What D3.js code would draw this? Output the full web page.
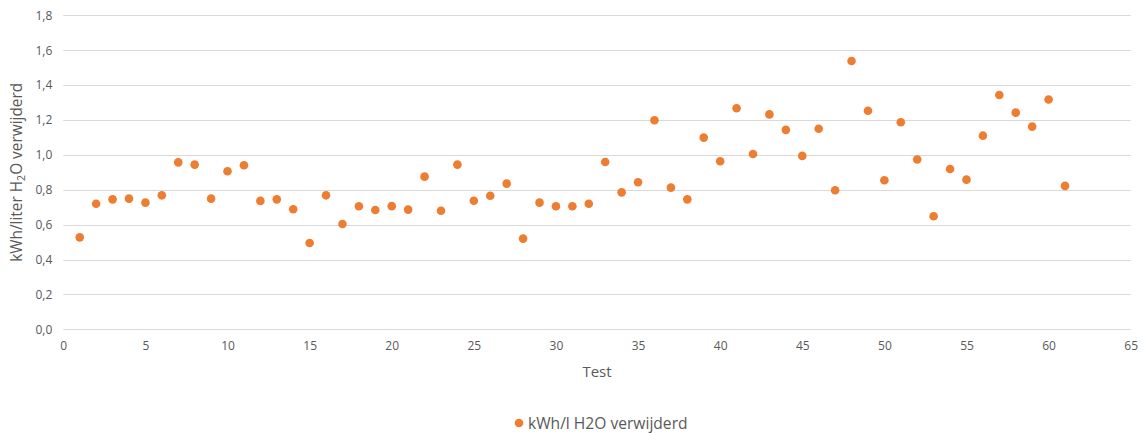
<!DOCTYPE html>
<html>
<head>
<meta charset="utf-8">
<script src="https://cdn.jsdelivr.net/npm/d3@7"></script>
<style>
  html, body { margin: 0; padding: 0; background: #fff; }
  svg text { font-family: "Open Sans", Lato, sans-serif; fill: #595959; }
</style>
</head>
<body>
<svg id="chart" width="1143" height="434"></svg>
<script>
// Test numbers and energy use per litre of water removed
const tests = d3.range(1, 62);
const kwhPerLiter = [
  0.527, 0.720, 0.745, 0.749, 0.726, 0.768, 0.957, 0.944, 0.749, 0.906,
  0.940, 0.736, 0.745, 0.688, 0.495, 0.768, 0.604, 0.705, 0.684, 0.706,
  0.686, 0.875, 0.680, 0.944, 0.737, 0.766, 0.835, 0.520, 0.726, 0.705,
  0.705, 0.720, 0.959, 0.785, 0.843, 1.198, 0.812, 0.745, 1.099, 0.963,
  1.267, 1.005, 1.232, 1.143, 0.994, 1.150, 0.797, 1.538, 1.253, 0.854,
  1.187, 0.973, 0.648, 0.919, 0.858, 1.110, 1.343, 1.242, 1.162, 1.317,
  0.822
];
const xTicks = d3.range(0, 66, 5);
const yTicks = d3.range(0, 1.81, 0.2);
const seriesName = "kWh/l H2O verwijderd";

const svg = d3.select("#chart");
const plotLeft = 63.3, plotRight = 1130.7, plotTop = 15.3, plotBottom = 329.3;

const x = d3.scaleLinear().domain([0, 65]).range([plotLeft, plotRight]);
const y = d3.scaleLinear().domain([0, 1.8]).range([plotBottom, plotTop]);
const fmt = v => d3.format(".1f")(v).replace(".", ",");

// horizontal gridlines
svg.append("g")
  .selectAll("line")
  .data(yTicks)
  .join("line")
  .attr("x1", plotLeft).attr("x2", plotRight)
  .attr("y1", d => Math.round(y(d)) + 0.5).attr("y2", d => Math.round(y(d)) + 0.5)
  .attr("stroke", "#d9d9d9").attr("stroke-width", 1);

// y axis labels
const yAxis = d3.axisLeft(y).tickValues(yTicks).tickFormat(fmt).tickSize(0).tickPadding(11);
svg.append("g")
  .attr("transform", `translate(${plotLeft},0)`)
  .call(yAxis)
  .call(g => g.select(".domain").remove())
  .call(g => g.selectAll("text").style("font-size", "12px").attr("fill", "#595959"));

// x axis labels
const xAxis = d3.axisBottom(x).tickValues(xTicks).tickFormat(d3.format("d")).tickSize(0).tickPadding(12);
svg.append("g")
  .attr("transform", `translate(0,${plotBottom})`)
  .call(xAxis)
  .call(g => g.select(".domain").remove())
  .call(g => g.selectAll("text").style("font-size", "12px").attr("fill", "#595959"));

// axis titles
svg.append("text")
  .attr("x", (plotLeft + plotRight) / 2).attr("y", 377)
  .attr("text-anchor", "middle")
  .style("font-size", "15px")
  .text("Test");

const yTitle = svg.append("text")
  .attr("transform", `translate(22,${(plotTop + plotBottom) / 2}) rotate(-90)`)
  .attr("text-anchor", "middle")
  .style("font-size", "15.4px");
yTitle.append("tspan").text("kWh/liter H");
yTitle.append("tspan").attr("baseline-shift", "-30%").style("font-size", "10.5px").text("2");
yTitle.append("tspan").text("O verwijderd");

// data points
svg.append("g")
  .selectAll("circle")
  .data(tests.map((t, i) => ({ t, v: kwhPerLiter[i] })))
  .join("circle")
  .attr("cx", d => x(d.t))
  .attr("cy", d => y(d.v))
  .attr("r", 4.3)
  .attr("fill", "#ED7D31");

// legend
const legend = svg.append("g").attr("transform", "translate(519,423)");
legend.append("circle").attr("r", 4.3).attr("fill", "#ED7D31");
legend.append("text")
  .attr("x", 9).attr("y", 5.5)
  .style("font-size", "15.6px")
  .text(seriesName);
</script>
</body>
</html>
